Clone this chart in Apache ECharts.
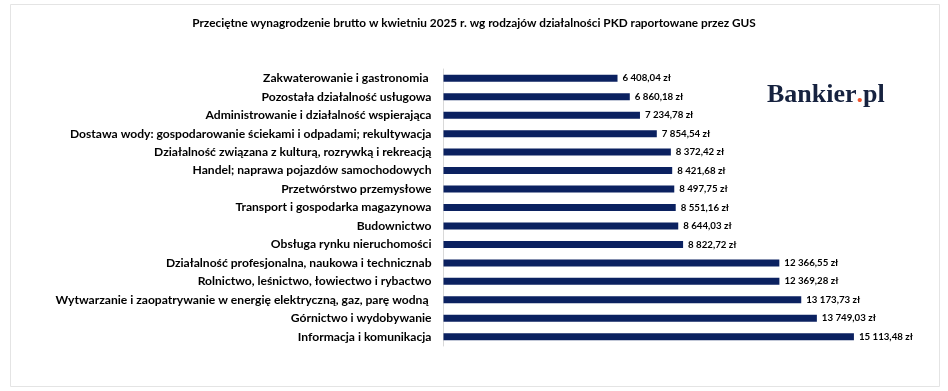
<!DOCTYPE html>
<html><head><meta charset="utf-8">
<script src="https://cdn.jsdelivr.net/npm/echarts@6/dist/echarts.min.js"></script>
<style>html,body{margin:0;padding:0;background:#fff}#c{width:948px;height:391px}</style>
</head><body><div id="c"></div>
<script>
const categories = [
  "Zakwaterowanie i gastronomia ",
  "Pozostała działalność usługowa",
  "Administrowanie i działalność wspierająca",
  "Dostawa wody: gospodarowanie ściekami i odpadami; rekultywacja",
  "Działalność związana z kulturą, rozrywką i rekreacją",
  "Handel; naprawa pojazdów samochodowych",
  "Przetwórstwo przemysłowe",
  "Transport i gospodarka magazynowa",
  "Budownictwo",
  "Obsługa rynku nieruchomości",
  "Działalność profesjonalna, naukowa i technicznab",
  "Rolnictwo, leśnictwo, łowiectwo i rybactwo",
  "Wytwarzanie i zaopatrywanie w energię elektryczną, gaz, parę wodną ",
  "Górnictwo i wydobywanie",
  "Informacja i komunikacja"
];
const values = [6408.04, 6860.18, 7234.78, 7854.54, 8372.42, 8421.68, 8497.75, 8551.16, 8644.03, 8822.72, 12366.55, 12369.28, 13173.73, 13749.03, 15113.48];
const titleText = "Przeciętne wynagrodzenie brutto w kwietniu 2025 r. wg rodzajów działalności PKD raportowane przez GUS";

function fmt(v){
  const parts = v.toFixed(2).split('.');
  const int = parts[0].replace(/\B(?=(\d{3})+(?!\d))/g, ' ');
  return int + ',' + parts[1] + ' zł';
}

const chart = echarts.init(document.getElementById('c'), null, {renderer:'canvas'});
chart.setOption({
  backgroundColor:'#fff',
  animation:false,
  title:[{
    text:titleText, left:'center', top:12,
    textStyle:{fontFamily:'Lato', fontWeight:'bold', fontSize:11.8, color:'#000'}
  },{
    text:'{a|Bankier}{b|.}{a|pl}', left:762, top:77,
    textStyle:{rich:{
      a:{fontFamily:'Liberation Serif', fontWeight:'bold', fontSize:26, color:'#16223f'},
      b:{fontFamily:'Liberation Serif', fontWeight:'bold', fontSize:26, color:'#f2542d'}
    }}
  }],
  graphic:[{
    type:'rect', shape:{x:10.5, y:4.5, width:929, height:382},
    style:{fill:'none', stroke:'#e4e4e4', lineWidth:1}, silent:true
  }],
  grid:{left:443.5, right:70, top:69, bottom:45, containLabel:false},
  xAxis:{type:'value', min:0, max:16000, show:false},
  yAxis:{
    type:'category', data:categories, inverse:true,
    axisLine:{show:true, lineStyle:{color:'#d9d9d9', width:1}},
    axisTick:{show:false},
    axisLabel:{margin:12, fontFamily:'Lato', fontWeight:'bold', fontSize:12.1, color:'#000'}
  },
  series:[{
    type:'bar', data:values, barWidth:7,
    itemStyle:{color:'#0b2160'},
    label:{show:true, position:'right', distance:5, formatter:p=>fmt(p.value),
      fontFamily:'Lato', fontWeight:'bold', fontSize:9.7, color:'#000'}
  }]
});
</script></body></html>
